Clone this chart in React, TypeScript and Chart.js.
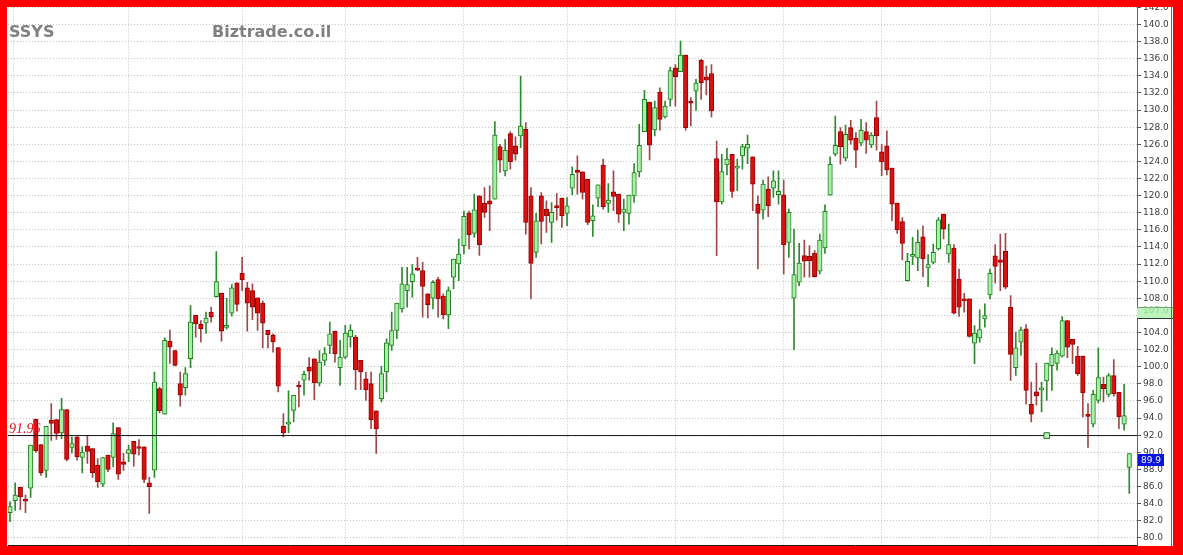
import React, { useEffect, useRef } from 'react';
import { Chart, registerables } from 'chart.js';

Chart.register(...registerables);

const symbol = 'SSYS';
const siteName = 'Biztrade.co.il';

const opens = [
  82.95, 84.35, 85.9, 84.4, 85.8, 93.87, 90.9, 87.9, 93.75, 93.83,
  92.28, 95.0, 90.57, 91.8, 89.4, 90.72, 90.45, 88.5, 86.29, 89.67,
  89.4, 92.9, 88.9, 89.87, 91.3, 90.55, 90.64, 86.45, 87.92, 97.45,
  94.45, 102.96, 101.9, 98.03, 97.56, 100.94, 106.0, 104.95, 105.1, 106.4,
  108.2, 108.6, 104.6, 106.27, 109.8, 110.93, 109.22, 108.9, 108.06, 107.43,
  104.25, 103.66, 102.23, 93.05, 93.3, 94.9, 97.83, 98.42, 99.97, 100.94,
  98.11, 100.75, 102.5, 104.17, 99.89, 101.13, 103.5, 103.47, 100.75, 98.6,
  98.03, 94.84, 96.28, 99.39, 102.5, 104.24, 106.77, 108.9, 109.96, 111.5,
  111.24, 108.52, 108.01, 110.19, 108.25, 106.07, 110.46, 112.02, 114.15, 117.96,
  115.59, 119.98, 119.09, 119.4, 119.59, 125.73, 122.9, 127.25, 125.81, 126.97,
  127.75, 119.98, 113.37, 119.98, 118.43, 116.87, 118.7, 119.71, 117.92, 120.87,
  122.97, 122.78, 121.92, 117.07, 119.71, 123.56, 119.09, 120.45, 120.18, 118.04,
  117.92, 119.98, 122.78, 127.48, 130.94, 127.68, 132.11, 129.19, 131.25, 134.94,
  134.48, 136.42, 131.0, 132.22, 135.8, 133.9, 134.28, 124.33, 119.28, 123.6,
  124.84, 123.21, 124.64, 125.54, 124.53, 119.01, 118.31, 120.76, 120.88, 120.1,
  120.1, 114.54, 108.01, 109.88, 112.99, 112.91, 113.26, 111.16, 113.88, 120.06,
  124.84, 127.48, 124.38, 127.95, 126.71, 126.12, 127.48, 125.93, 129.12, 125.11,
  125.81, 123.21, 119.13, 116.98, 110.07, 112.9, 112.71, 115.2, 111.54, 112.2,
  113.76, 117.84, 113.18, 113.88, 110.26, 107.9, 107.93, 102.76, 103.38, 105.6,
  108.4, 112.98, 112.51, 113.49, 106.96, 99.89, 102.88, 104.44, 95.62, 97.06,
  97.3, 98.34, 100.13, 100.4, 101.25, 105.41, 103.2, 101.25, 101.25, 94.3,
  93.28, 96.08, 97.95, 96.78, 98.96, 97.02, 93.28, 88.23,
];

const highs = [
  84.23, 86.45, 85.9, 85.0, 90.84, 93.9, 90.9, 93.05, 95.7, 93.83,
  96.3, 95.0, 91.8, 91.8, 90.64, 92.0, 90.45, 89.28, 89.4, 89.67,
  93.44, 92.9, 89.87, 90.84, 91.3, 91.5, 90.64, 87.07, 99.39, 97.64,
  103.39, 104.3, 101.95, 99.39, 99.9, 107.16, 106.0, 105.4, 106.4, 106.97,
  113.46, 108.6, 108.0, 109.6, 109.8, 112.8, 109.88, 109.7, 108.06, 107.7,
  104.25, 103.86, 102.23, 94.53, 97.2, 96.67, 98.3, 99.5, 101.06, 100.94,
  101.9, 102.23, 105.22, 104.17, 103.08, 104.83, 104.9, 103.66, 100.75, 99.39,
  99.39, 94.84, 100.05, 103.27, 106.38, 107.43, 111.63, 111.63, 111.94, 112.79,
  112.2, 108.52, 110.07, 110.46, 108.52, 109.3, 112.6, 114.93, 118.2, 118.2,
  120.18, 119.98, 120.95, 121.15, 128.65, 126.0, 126.59, 127.48, 126.86, 133.97,
  128.53, 120.95, 117.92, 120.37, 119.4, 119.2, 120.25, 119.71, 119.78, 123.36,
  124.64, 122.78, 121.92, 118.93, 121.26, 124.27, 121.42, 122.89, 120.18, 119.59,
  120.06, 123.75, 128.34, 132.3, 130.94, 131.06, 132.61, 131.06, 135.02, 135.33,
  138.05, 136.42, 131.45, 133.59, 135.92, 135.14, 135.33, 126.39, 124.84, 125.54,
  124.84, 124.26, 126.0, 127.09, 124.53, 119.98, 121.81, 122.2, 122.9, 122.9,
  121.81, 118.43, 116.1, 114.43, 114.82, 114.15, 113.57, 115.51, 118.93, 124.53,
  129.31, 127.95, 128.26, 128.8, 127.37, 128.92, 128.53, 127.37, 131.06, 126.01,
  127.56, 123.21, 119.13, 117.45, 113.25, 115.12, 115.97, 116.48, 113.1, 114.34,
  117.45, 117.84, 116.67, 114.27, 111.43, 108.59, 107.93, 104.82, 106.65, 107.35,
  111.43, 114.27, 115.51, 115.59, 108.32, 104.04, 104.63, 104.94, 98.22, 100.44,
  98.22, 100.44, 102.22, 101.9, 105.88, 105.41, 103.2, 102.38, 101.25, 95.7,
  97.25, 102.22, 98.8, 99.19, 100.83, 97.02, 97.95, 89.86,
];

const lows = [
  81.9, 83.2, 83.3, 82.95, 84.74, 90.0, 87.3, 87.07, 91.4, 91.5,
  91.6, 89.0, 89.9, 89.09, 87.6, 88.7, 87.07, 85.9, 85.98, 87.73,
  88.3, 86.83, 87.9, 88.9, 88.39, 89.67, 86.45, 82.87, 87.07, 94.6,
  94.45, 100.4, 100.1, 95.4, 96.67, 99.9, 103.47, 102.9, 103.9, 105.2,
  108.13, 103.0, 104.4, 105.9, 106.5, 108.9, 104.17, 105.5, 104.25, 102.2,
  102.2, 101.7, 97.06, 91.8, 92.3, 93.56, 95.3, 96.67, 98.42, 96.16,
  97.72, 100.17, 101.53, 100.55, 97.83, 100.94, 102.3, 97.33, 97.33, 96.08,
  92.78, 89.86, 95.89, 97.06, 101.9, 103.27, 106.38, 106.96, 108.13, 111.24,
  105.8, 105.72, 106.77, 105.8, 105.6, 104.44, 109.1, 110.07, 113.18, 113.76,
  115.13, 113.0, 117.45, 115.9, 119.59, 122.7, 122.31, 123.09, 124.14, 125.61,
  115.51, 107.93, 112.79, 114.34, 115.7, 114.54, 117.14, 116.29, 116.48, 120.1,
  120.17, 119.59, 116.6, 115.24, 118.7, 118.43, 118.04, 118.23, 116.87, 115.9,
  116.68, 119.2, 122.19, 127.48, 124.18, 126.97, 127.64, 129.04, 130.47, 130.47,
  134.48, 127.64, 128.14, 129.97, 131.25, 131.76, 129.19, 112.99, 119.01, 122.43,
  119.79, 120.57, 123.09, 123.75, 118.23, 111.43, 117.26, 117.54, 119.79, 119.01,
  110.85, 112.79, 101.99, 109.49, 110.46, 110.46, 110.46, 110.85, 113.26, 120.06,
  124.65, 123.67, 124.07, 126.01, 123.29, 125.81, 124.92, 125.62, 125.31, 122.32,
  122.43, 117.07, 115.59, 112.48, 109.99, 111.93, 111.23, 110.54, 109.37, 112.01,
  113.64, 114.93, 112.21, 106.18, 105.87, 106.37, 103.46, 100.35, 102.88, 104.63,
  107.93, 109.76, 108.9, 109.1, 98.41, 99.0, 101.32, 95.62, 93.56, 95.5,
  94.72, 96.08, 97.25, 99.6, 101.13, 101.06, 100.36, 99.0, 94.14, 90.56,
  92.97, 95.77, 95.89, 96.47, 96.55, 92.78, 92.58, 85.2,
];

const closes = [
  83.65, 85.0, 84.8, 84.3, 90.84, 90.18, 87.6, 93.05, 93.37, 92.2,
  95.0, 89.17, 91.03, 89.48, 90.02, 90.1, 87.6, 86.56, 89.4, 88.0,
  92.2, 87.46, 88.6, 90.33, 89.8, 90.45, 86.83, 85.98, 98.22, 94.84,
  103.08, 102.3, 100.17, 96.67, 99.2, 105.22, 105.0, 104.44, 105.7, 105.8,
  109.96, 104.17, 104.8, 109.22, 107.3, 110.16, 107.43, 106.97, 106.27, 105.1,
  103.74, 102.9, 97.72, 92.28, 93.45, 96.67, 97.64, 99.12, 99.5, 98.11,
  100.55, 101.53, 103.86, 101.53, 101.13, 103.93, 104.3, 99.66, 99.39, 97.33,
  93.83, 92.74, 99.19, 102.8, 104.24, 107.43, 109.68, 109.6, 110.85, 111.3,
  109.38, 107.27, 109.88, 107.93, 106.07, 108.9, 112.6, 113.18, 117.57, 115.44,
  118.35, 114.27, 118.04, 119.01, 127.09, 124.14, 125.3, 123.98, 124.84, 128.14,
  116.87, 112.09, 117.07, 116.99, 117.65, 118.04, 118.6, 117.65, 118.81, 122.5,
  122.7, 120.37, 116.87, 117.65, 121.26, 118.7, 119.48, 119.9, 117.84, 118.43,
  120.06, 122.7, 125.89, 131.25, 125.89, 130.28, 128.92, 130.47, 134.63, 133.9,
  136.42, 127.95, 130.8, 133.16, 133.2, 133.5, 129.9, 119.28, 122.82, 124.26,
  120.49, 123.36, 125.73, 126.0, 121.34, 117.92, 121.34, 118.82, 121.73, 120.49,
  114.27, 118.04, 110.77, 112.13, 112.33, 112.4, 110.54, 114.82, 118.16, 123.67,
  125.89, 125.7, 127.17, 126.47, 125.31, 127.64, 126.47, 127.09, 126.98, 123.95,
  123.02, 119.01, 115.98, 114.42, 112.32, 113.1, 114.54, 112.59, 111.93, 113.37,
  117.18, 116.09, 114.27, 106.26, 106.96, 107.7, 103.54, 103.93, 104.36, 105.99,
  110.92, 111.74, 112.2, 109.29, 101.44, 102.22, 104.32, 97.25, 94.45, 96.59,
  97.4, 100.44, 101.44, 101.6, 105.41, 102.3, 102.61, 99.19, 96.94, 94.2,
  96.78, 98.73, 97.44, 98.96, 96.86, 94.14, 94.3, 89.86,
];

// candle indices where a new month starts (vertical grid lines)
const monthStartIdx = [0.6, 23, 45, 65, 88, 108, 129, 150, 169, 190, 211];
const priceTicks = [
  80, 82, 84, 86, 88, 90, 92, 94, 96, 98, 100, 102, 104, 106, 108, 110,
  112, 114, 116, 118, 120, 122, 124, 126, 128, 130, 132, 134, 136, 138, 140, 142,
];
const levelPrice = 91.96;
const levelMarkerIdx = 201;
const lastPrice = 89.86;
const sideMarkPrice = 107.0;

const X_MIN = -0.39;
const X_MAX = 218.5;
const Y_MIN = 79.17;
const Y_MAX = 142;

const UP_FILL = '#a4f2a4';
const UP_LINE = '#237d23';
const DOWN_FILL = '#d81010';
const DOWN_LINE = '#980000';
const UP_WICK = '#2e8a2e';
const DOWN_WICK = '#a04848';

export default function App() {
  const ref = useRef<HTMLCanvasElement>(null);

  useEffect(() => {
    const canvas = ref.current;
    if (!canvas) return;
    const idx = opens.map((_, i) => i);
    const up = idx.map((i) => closes[i] >= opens[i]);

    const overlay = {
      id: 'overlay',
      beforeDraw(chart: any) {
        const c = chart.ctx;
        c.save();
        c.fillStyle = '#ffffff';
        c.fillRect(0, 0, chart.width, chart.height);
        c.restore();
      },
      afterDraw(chart: any) {
        const { ctx, chartArea, scales } = chart;
        const y = scales.y;
        ctx.save();
        // level label
        const ly = y.getPixelForValue(levelPrice);
        ctx.font = 'italic 14px "Liberation Serif"';
        ctx.fillStyle = '#e8101c';
        ctx.textAlign = 'left';
        ctx.textBaseline = 'alphabetic';
        ctx.fillText(levelPrice.toFixed(2), chartArea.left + 1, ly - 2.5);

        // side mark box
        const gy = Math.round(y.getPixelForValue(sideMarkPrice));
        ctx.fillStyle = '#bdf4bd';
        ctx.fillRect(y.left, gy, y.width, 12);
        ctx.fillStyle = '#7a9a7a';
        ctx.fillRect(y.left, gy, y.width, 1);
        ctx.fillStyle = '#333333';
        ctx.fillRect(y.left, gy + 11, y.width, 1);
        ctx.font = '9px "DejaVu Sans"';
        ctx.fillStyle = '#94d494';
        ctx.textBaseline = 'middle';
        ctx.fillText(sideMarkPrice.toFixed(1), y.left + 6, gy + 4);

        // last price box
        const by = Math.round(y.getPixelForValue(lastPrice));
        ctx.fillStyle = '#0a14dc';
        ctx.fillRect(y.left + 1, by, 26, 12);
        ctx.fillStyle = '#eef2ff';
        ctx.textAlign = 'center';
        ctx.font = '9px "DejaVu Sans"';
        ctx.fillText(lastPrice.toFixed(1), y.left + 14, by + 6.5);

        // red frame
        const W = chart.width;
        const H = chart.height;
        ctx.fillStyle = '#ff0000';
        ctx.fillRect(0, 0, W, 7);
        ctx.fillRect(0, 0, 7, H);
        ctx.fillRect(0, 546, W, H - 546);
        ctx.fillRect(1173, 0, W - 1173, H);
        ctx.fillStyle = '#f03030';
        ctx.fillRect(1171, 7, 1, 539);
        ctx.restore();
      },
    };

    const chart = new Chart(canvas, {
      type: 'bar',
      data: {
        datasets: [
          {
            type: 'line',
            label: 'marker',
            data: [{ x: levelMarkerIdx, y: levelPrice }],
            showLine: false,
            pointStyle: 'rect',
            pointRadius: 4,
            pointBackgroundColor: '#b9f3b9',
            pointBorderColor: '#2a6a2a',
            pointBorderWidth: 1,
            order: -2,
          } as any,
          {
            type: 'line',
            label: 'level',
            data: [
              { x: X_MIN, y: levelPrice },
              { x: X_MAX, y: levelPrice },
            ],
            borderColor: '#111111',
            borderWidth: 1,
            pointRadius: 0,
            order: -1,
          } as any,
          {
            type: 'bar',
            label: 'body',
            data: idx.map((i) => ({ x: i, y: [opens[i], closes[i]] })),
            backgroundColor: up.map((u) => (u ? UP_FILL : DOWN_FILL)),
            borderColor: up.map((u) => (u ? UP_LINE : DOWN_LINE)),
            borderWidth: 1,
            borderSkipped: false,
            barThickness: 4.5,
            maxBarThickness: 4.5,
            minBarLength: 2,
            grouped: false,
            order: 0,
          } as any,
          {
            type: 'bar',
            label: 'wick',
            data: idx.map((i) => ({ x: i, y: [lows[i], highs[i]] })),
            backgroundColor: up.map((u) => (u ? UP_WICK : DOWN_WICK)),
            borderWidth: 0,
            barThickness: 1,
            maxBarThickness: 1,
            grouped: false,
            order: 1,
          } as any,
        ],
      },
      options: {
        responsive: false,
        animation: false,
        devicePixelRatio: 1,
        layout: { padding: { left: 8, top: 6, right: 10, bottom: 10 } },
        plugins: {
          legend: { display: false },
          tooltip: { enabled: false },
        },
        scales: {
          x: {
            type: 'linear',
            min: X_MIN,
            max: X_MAX,
            offset: false,
            afterBuildTicks: (s: any) => {
              s.ticks = monthStartIdx.map((v) => ({ value: v }));
            },
            ticks: { display: false },
            grid: { color: '#c4c4c4', drawTicks: false, offset: false },
            border: { display: true, color: '#1a1a1a', dash: [1, 2] },
          },
          y: {
            type: 'linear',
            position: 'right',
            min: Y_MIN,
            max: Y_MAX,
            afterBuildTicks: (s: any) => {
              s.ticks = priceTicks.map((v) => ({ value: v }));
            },
            afterFit: (s: any) => {
              s.width = 36;
            },
            ticks: {
              color: '#3a3a3a',
              font: { family: 'DejaVu Sans', size: 9 },
              padding: 2,
              autoSkip: false,
              callback: (v: any) => Number(v).toFixed(1),
            },
            grid: { color: '#c4c4c4', tickColor: '#555555', tickLength: 4 },
            border: { display: true, color: '#f02828', dash: [1, 2] },
          },
        },
      } as any,
      plugins: [overlay],
    });

    return () => chart.destroy();
  }, []);

  const titleStyle: React.CSSProperties = {
    position: 'absolute',
    fontFamily: '"DejaVu Sans", Verdana, sans-serif',
    fontWeight: 'bold',
    color: '#808080',
    lineHeight: 1,
    whiteSpace: 'nowrap',
  };

  return (
    <div style={{ position: 'absolute', left: 0, top: 0, width: 1183, height: 555 }}>
      <canvas ref={ref} width={1183} height={555} style={{ display: 'block' }} />
      <div style={{ ...titleStyle, left: 9, top: 23.5, fontSize: 16 }}>{symbol}</div>
      <div style={{ ...titleStyle, left: 212, top: 24.2, fontSize: 16 }}>{siteName}</div>
    </div>
  );
}
